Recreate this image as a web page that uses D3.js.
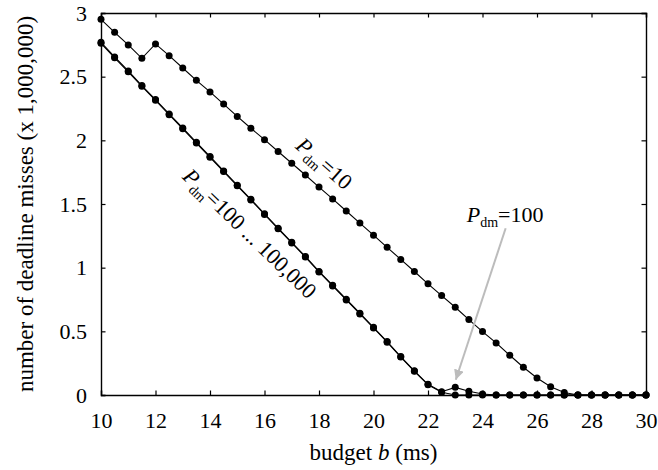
<!DOCTYPE html>
<html>
<head>
<meta charset="utf-8">
<script src="https://cdn.jsdelivr.net/npm/d3@7"></script>
<style>
  body { margin: 0; background: #fff; }
</style>
</head>
<body>
<div id="chart"></div>
<script>
// budget b (ms), one point every 0.5 ms
const budget = [10, 10.5, 11, 11.5, 12, 12.5, 13, 13.5, 14, 14.5, 15, 15.5, 16, 16.5, 17, 17.5,
  18, 18.5, 19, 19.5, 20, 20.5, 21, 21.5, 22, 22.5, 23, 23.5, 24, 24.5, 25, 25.5, 26, 26.5,
  27, 27.5, 28, 28.5, 29, 29.5, 30];

// deadline misses (x 1,000,000)
const missesP10 = [2.95, 2.848, 2.749, 2.644, 2.757, 2.665, 2.568, 2.471, 2.38, 2.285, 2.188,
  2.095, 2.005, 1.912, 1.82, 1.728, 1.633, 1.54, 1.445, 1.35, 1.255, 1.16, 1.065, 0.97, 0.873,
  0.781, 0.689, 0.592, 0.498, 0.409, 0.312, 0.218, 0.134, 0.065, 0.02, 0, 0, 0, 0, 0, 0];
const missesP100 = [2.77, 2.655, 2.545, 2.43, 2.32, 2.207, 2.097, 1.984, 1.873, 1.76, 1.648,
  1.537, 1.423, 1.31, 1.199, 1.088, 0.97, 0.862, 0.752, 0.642, 0.532, 0.42, 0.302, 0.19, 0.084,
  0.026, 0.06, 0.03, 0.008, 0, 0, 0, 0, 0, 0, 0, 0, 0, 0, 0, 0];
// P_dm = 1,000 ... 100,000 lie on top of each other
const missesP1000 = [2.762, 2.648, 2.538, 2.424, 2.314, 2.201, 2.091, 1.979, 1.867, 1.755, 1.643,
  1.532, 1.418, 1.305, 1.194, 1.083, 0.966, 0.857, 0.747, 0.637, 0.527, 0.415, 0.298, 0.186, 0.08,
  0.022, 0, 0, 0, 0, 0, 0, 0, 0, 0, 0, 0, 0, 0, 0, 0];

const xTicks = [10, 12, 14, 16, 18, 20, 22, 24, 26, 28, 30];
const yTicks = [0, 0.5, 1, 1.5, 2, 2.5, 3];

const FONT = '"Liberation Serif", Tinos, "Times New Roman", Times, serif';

const width = 658;
const height = 470;
const margin = {top: 13, right: 12, bottom: 75, left: 101};

const x = d3.scaleLinear().domain([10, 30]).range([margin.left, width - margin.right]);
const y = d3.scaleLinear().domain([0, 3]).range([height - margin.bottom, margin.top]);

const svg = d3.select('#chart').append('svg')
  .attr('width', width)
  .attr('height', height)
  .attr('font-family', FONT);

svg.append('defs').append('marker')
  .attr('id', 'head')
  .attr('viewBox', '0 0 10 10')
  .attr('refX', 10)
  .attr('refY', 5)
  .attr('markerWidth', 5)
  .attr('markerHeight', 5)
  .attr('markerUnits', 'strokeWidth')
  .attr('orient', 'auto')
  .append('path')
    .attr('d', 'M0,0 L10,5 L0,10 z')
    .attr('fill', '#bcbcbc');

// ticks on all four sides, pointing inwards
const tickLen = 4.5;
const axisBottom = d3.axisBottom(x).tickValues(xTicks).tickSize(-tickLen).tickPadding(17).tickFormat(d3.format('d'));
const axisTop = d3.axisTop(x).tickValues(xTicks).tickSize(-tickLen).tickFormat('');
const axisLeft = d3.axisLeft(y).tickValues(yTicks).tickSize(-tickLen).tickPadding(14).tickFormat(d => d);
const axisRight = d3.axisRight(y).tickValues(yTicks).tickSize(-tickLen).tickFormat('');

function styleAxis (g) {
  g.attr('font-family', FONT).attr('font-size', 22);
  g.select('.domain').attr('stroke', '#000').attr('stroke-width', 1.4);
  g.selectAll('.tick line').attr('stroke', '#000').attr('stroke-width', 1.2);
  g.selectAll('.tick text').attr('fill', '#000');
}

svg.append('g').attr('transform', 'translate(0,' + y(0) + ')').call(axisBottom).call(styleAxis);
svg.append('g').attr('transform', 'translate(0,' + y(3) + ')').call(axisTop).call(styleAxis);
svg.append('g').attr('transform', 'translate(' + x(10) + ',0)').call(axisLeft).call(styleAxis);
svg.append('g').attr('transform', 'translate(' + x(30) + ',0)').call(axisRight).call(styleAxis);

const line = d3.line()
  .x(d => x(d[0]))
  .y(d => y(d[1]));

const series = [
  {name: 'p10', values: missesP10},
  {name: 'p1000', values: missesP1000},
  {name: 'p100', values: missesP100}
];

series.forEach(s => {
  const pts = budget.map((b, i) => [b, s.values[i]]);
  svg.append('path')
    .datum(pts)
    .attr('fill', 'none')
    .attr('stroke', '#000')
    .attr('stroke-width', 1.1)
    .attr('d', line);
  svg.append('g').selectAll('circle')
    .data(pts)
    .enter().append('circle')
      .attr('cx', d => x(d[0]))
      .attr('cy', d => y(d[1]))
      .attr('r', 3.5)
      .attr('fill', '#000');
});

// axis titles
svg.append('text')
  .attr('x', (x(10) + x(30)) / 2)
  .attr('y', 460)
  .attr('text-anchor', 'middle')
  .attr('font-size', 23)
  .call(t => {
    t.append('tspan').text('budget ');
    t.append('tspan').attr('font-style', 'italic').text('b');
    t.append('tspan').text(' (ms)');
  });

svg.append('text')
  .attr('transform', 'translate(33,' + (y(0) + y(3)) / 2 + ') rotate(-90)')
  .attr('text-anchor', 'middle')
  .attr('font-size', 23)
  .text('number of deadline misses (x 1,000,000)');

// P_dm labels
function pdm (t, rest) {
  t.append('tspan').attr('font-style', 'italic').text('P');
  t.append('tspan').attr('font-size', 14).attr('dy', 5).text('dm');
  t.append('tspan').attr('dy', -5).text(rest);
}

svg.append('text')
  .attr('transform', 'translate(' + x(18.2) + ',' + y(1.82) + ') rotate(41)')
  .attr('text-anchor', 'middle')
  .attr('dy', '0.35em')
  .attr('font-size', 22)
  .call(pdm, '=10');

svg.append('text')
  .attr('transform', 'translate(' + x(15.47) + ',' + y(1.27) + ') rotate(44)')
  .attr('text-anchor', 'middle')
  .attr('dy', '0.35em')
  .attr('font-size', 22)
  .call(pdm, '=100 ... 100,000');

svg.append('text')
  .attr('x', x(23.42))
  .attr('y', y(1.36))
  .attr('font-size', 22)
  .call(pdm, '=100');

svg.append('line')
  .attr('x1', x(24.85))
  .attr('y1', y(1.31))
  .attr('x2', x(23.02))
  .attr('y2', y(0.12))
  .attr('stroke', '#bcbcbc')
  .attr('stroke-width', 2)
  .attr('marker-end', 'url(#head)');
</script>
</body>
</html>
